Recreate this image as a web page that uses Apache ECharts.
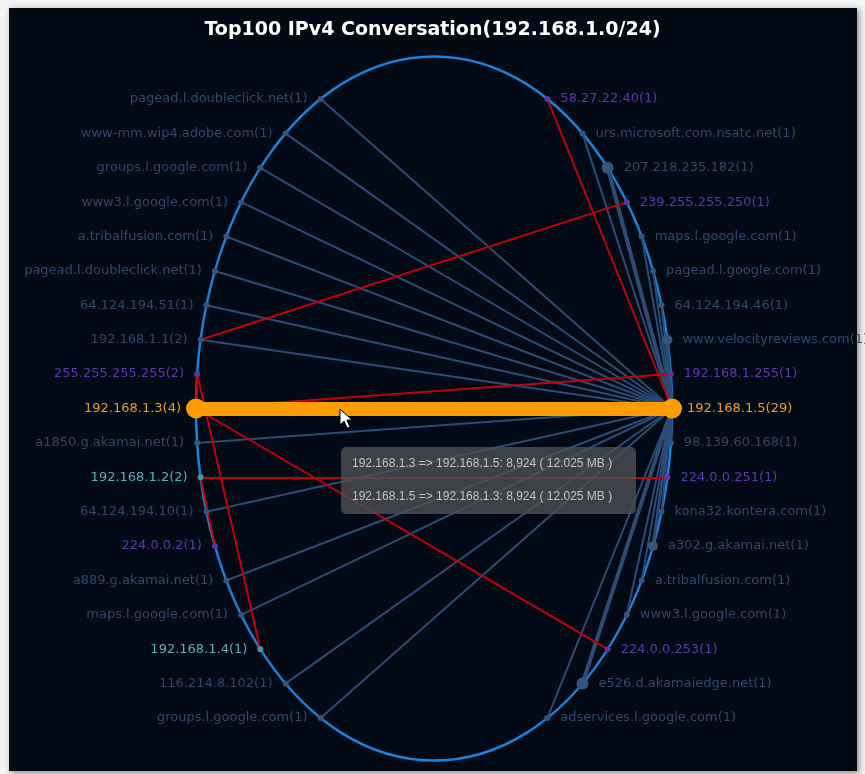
<!DOCTYPE html>
<html>
<head>
<meta charset="utf-8">
<script src="https://cdn.jsdelivr.net/npm/echarts@6/dist/echarts.min.js"></script>
<style>
  html,body{margin:0;padding:0;background:#f2f2f2;}
  #chart{width:865px;height:774px;}
</style>
</head>
<body>
<div id="chart"></div>
<script>
// node labels, top to bottom, left side and right side of the ellipse
const leftLabels=[
  'pagead.l.doubleclick.net(1)','www-mm.wip4.adobe.com(1)','groups.l.google.com(1)','www3.l.google.com(1)',
  'a.tribalfusion.com(1)','pagead.l.doubleclick.net(1)','64.124.194.51(1)','192.168.1.1(2)',
  '255.255.255.255(2)','192.168.1.3(4)','a1850.g.akamai.net(1)','192.168.1.2(2)','64.124.194.10(1)',
  '224.0.0.2(1)','a889.g.akamai.net(1)','maps.l.google.com(1)','192.168.1.4(1)','116.214.8.102(1)',
  'groups.l.google.com(1)'
]
const rightLabels=[
  '58.27.22.40(1)','urs.microsoft.com.nsatc.net(1)','207.218.235.182(1)','239.255.255.250(1)',
  'maps.l.google.com(1)','pagead.l.google.com(1)','64.124.194.46(1)','www.velocityreviews.com(1)',
  '192.168.1.255(1)','192.168.1.5(29)','98.139.60.168(1)','224.0.0.251(1)','kona32.kontera.com(1)',
  'a302.g.akamai.net(1)','a.tribalfusion.com(1)','www3.l.google.com(1)','224.0.0.253(1)',
  'e526.d.akamaiedge.net(1)','adservices.l.google.com(1)'
]
// h = host, m = multicast/broadcast, l = local, f = focused
const leftKinds=['h','h','h','h','h','h','h','h','m','f','h','l','h','m','h','h','l','h','h']
const rightKinds=['m','h','h','m','h','h','h','h','m','f','h','m','h','h','h','h','m','h','h']
// relative traffic weight of each node (drives symbol size)
const leftWeight=[1,1,1,1,1,1,1,1,1,4,1,1,1,1,1,1,1,1,1]
const rightWeight=[1,1,3,1,1,1,1,2,1,4,1,1,1,2,1,1,1,3,1]
// links: [from, to, kind, weight]  (L = left index, R = right index)
const links=[
  ['L0','R9','n',1],['L1','R9','n',1],['L2','R9','n',1],['L3','R9','n',1],['L4','R9','n',1],
  ['L5','R9','n',1],['L6','R9','n',1],['L7','R9','n',1],['L10','R9','n',1],['L12','R9','n',1],
  ['L14','R9','n',1],['L15','R9','n',1],['L17','R9','n',1],['L18','R9','n',1],
  ['R1','R9','n',1],['R2','R9','n',3],['R4','R9','n',1],['R5','R9','n',1],['R6','R9','n',1],
  ['R7','R9','n',2],['R10','R9','n',1],['R12','R9','n',1],['R13','R9','n',2],['R14','R9','n',1],
  ['R15','R9','n',1],['R17','R9','n',3],['R18','R9','n',1],
  ['R0','R9','r',1],['L7','R3','r',1],['L9','R8','r',1],['L9','L8','r',1],['L8','L16','r',1],
  ['L9','R16','r',1],['L11','R11','r',1],['L11','L13','r',1],
  ['L9','R9','f',1]
]
const tipLines=[
  '192.168.1.3 => 192.168.1.5: 8,924 ( 12.025 MB )',
  '192.168.1.5 => 192.168.1.3: 8,924 ( 12.025 MB )'
]

const chart=echarts.init(document.getElementById('chart'))

// ellipse the nodes sit on (pixel space)
const cx=434,cy=408.5,rx=238,ry=352
const yTop=99,yBottom=718

const nodeColor={h:'#34557c',m:'#5a34a6',l:'#3f9aa2',f:'#ff9c00'}
const labelColor={h:'#304868',m:'#5d38ac',l:'#5eaeb4',f:'#ee9c1c'}
const sizeOf=w=>w>=4?20:w==3?12:w==2?10:6

function buildNodes(labels,kinds,weights,side){
  return labels.map((lab,i)=>{
    let y=yTop+i*(yBottom-yTop)/(labels.length-1)
    let t=(y-cy)/ry
    let x=cx+side*rx*Math.sqrt(1-t*t)
    let k=kinds[i]
    return {
      id:(side<0?'L':'R')+i,
      name:lab,
      value:[x,y],
      symbolSize:sizeOf(weights[i]),
      itemStyle:{color:nodeColor[k]},
      label:{
        show:true,
        formatter:lab,
        position:side<0?'left':'right',
        distance:k=='f'?5:10,
        color:labelColor[k],
        fontSize:13,
        fontFamily:'DejaVu Sans'
      }
    }
  })
}
let nodes=buildNodes(leftLabels,leftKinds,leftWeight,-1).concat(buildNodes(rightLabels,rightKinds,rightWeight,1))

let edgeData=links.map(l=>{
  let color=l[2]=='r'?'#c4000c':l[2]=='f'?'#ff9c00':'#2b4c74'
  let width=l[2]=='f'?14:l[2]=='r'?2:(l[3]==3?4:l[3]==2?3:2)
  return {source:l[0],target:l[1],lineStyle:{color:color,width:width,opacity:1}}
})

let option={
  backgroundColor:'#f2f2f2',
  animation:false,
  title:{
    text:'Top100 IPv4 Conversation(192.168.1.0/24)',
    left:'center',
    top:16,
    textStyle:{color:'#ffffff',fontSize:19,fontWeight:'bold',fontFamily:'DejaVu Sans'}
  },
  grid:{left:0,right:0,top:0,bottom:0},
  xAxis:{type:'value',min:0,max:865,show:false},
  yAxis:{type:'value',min:0,max:774,inverse:true,show:false},
  graphic:[
    {type:'rect',z:-10,shape:{x:9,y:8,width:848,height:763},
      style:{fill:'#020a16',shadowBlur:6,shadowColor:'rgba(0,0,0,0.45)',shadowOffsetX:2,shadowOffsetY:2}},
    {type:'ellipse',z:-5,shape:{cx:cx,cy:cy,rx:rx,ry:ry},
      style:{fill:'none',stroke:'#1a82dc',lineWidth:2.5}},
    {type:'group',zlevel:1,z:100,x:341,y:447,children:[
      {type:'rect',zlevel:1,shape:{x:0,y:0,width:295,height:67,r:5},style:{fill:'rgba(78,80,84,0.8)'}},
      {type:'text',zlevel:1,x:11,y:17,style:{text:tipLines[0],fill:'#c2c2c2',fontSize:12,fontFamily:'Liberation Sans',verticalAlign:'middle'}},
      {type:'text',zlevel:1,x:11,y:50,style:{text:tipLines[1],fill:'#c2c2c2',fontSize:12,fontFamily:'Liberation Sans',verticalAlign:'middle'}}
    ]},
    {type:'polygon',zlevel:1,z:101,x:340,y:409,
      shape:{points:[[0,0],[0,16],[4,12],[7,19],[10,18],[7,11],[12,11]]},
      style:{fill:'#ffffff',stroke:'#000000',lineWidth:1}}
  ],
  series:[
    {
      type:'graph',
      coordinateSystem:'cartesian2d',
      layout:'none',
      data:nodes,
      links:edgeData,
      lineStyle:{opacity:1,curveness:0},
      emphasis:{disabled:true},
      z:2
    }
  ]
}
chart.setOption(option)
</script>
</body>
</html>
